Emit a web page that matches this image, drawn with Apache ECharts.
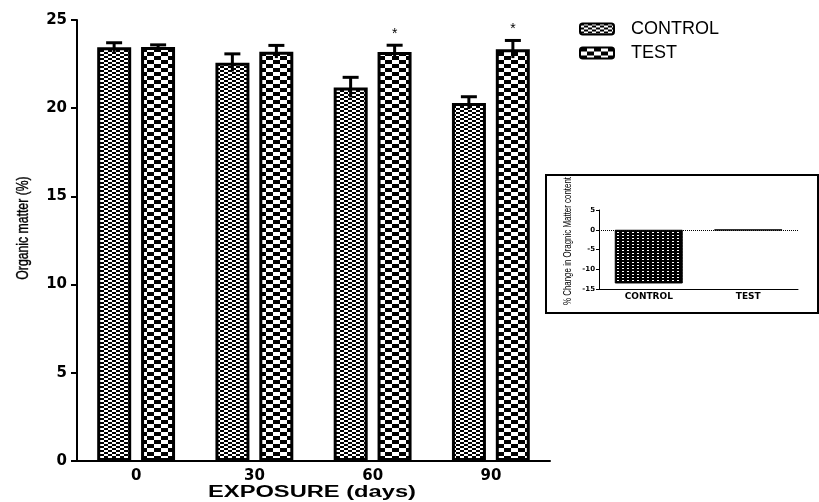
<!DOCTYPE html>
<html>
<head>
<meta charset="utf-8">
<script src="https://cdn.jsdelivr.net/npm/echarts@6/dist/echarts.min.js"></script>
<style>html,body{margin:0;padding:0;background:#fff}#c{width:819px;height:502px}</style>
</head>
<body>
<div id="c"></div>
<script>
var categories = ['0', '30', '60', '90'];
var controlMean = [23.45, 22.58, 21.18, 20.30];
var controlErr = [0.26, 0.50, 0.57, 0.35];
var testMean = [23.47, 23.20, 23.19, 23.34];
var testErr = [0.12, 0.36, 0.38, 0.50];
var testSig = ['', '', '*', '*'];
var yTicks = [0, 5, 10, 15, 20, 25];

var insetCategories = ['CONTROL', 'TEST'];
var insetValues = [-13.6, -0.1];
var insetTicks = [-15, -10, -5, 0, 5];

function makePattern(cw, ch, fg, bg) {
  var c = document.createElement('canvas');
  c.width = cw * 2; c.height = ch * 2;
  var g = c.getContext('2d');
  g.fillStyle = bg; g.fillRect(0, 0, c.width, c.height);
  g.fillStyle = fg;
  g.fillRect(0, 0, cw, ch);
  g.fillRect(cw, ch, cw, ch);
  return { image: c, repeat: 'repeat' };
}
function makeDots() {
  var c = document.createElement('canvas');
  c.width = 5; c.height = 3;
  var g = c.getContext('2d');
  g.fillStyle = '#000'; g.fillRect(0, 0, 5, 3);
  g.fillStyle = '#fff'; g.fillRect(2, 1, 2, 1);
  return { image: c, repeat: 'repeat' };
}
var controlPat = makePattern(4, 2, '#000', '#fff');
var testPat = makePattern(7, 4, '#000', '#fff');
var dotPat = makeDots();

function errRender(offset, meanArr, errArr, sigArr) {
  return function (params, api) {
    var i = params.dataIndex;
    var m = meanArr[i], e = errArr[i];
    var top = api.coord([i, m + e]);
    var bot = api.coord([i, m - e]);
    var cx = top[0] + offset;
    var cap = 8;
    var children = [
      { type: 'line', shape: { x1: cx, y1: top[1], x2: cx, y2: bot[1] }, style: { stroke: '#000', lineWidth: 3 } },
      { type: 'line', shape: { x1: cx - cap, y1: top[1], x2: cx + cap, y2: top[1] }, style: { stroke: '#000', lineWidth: 3 } }
    ];
    if (sigArr && sigArr[i]) {
      children.push({ type: 'text', style: { text: sigArr[i], x: cx, y: top[1] - 4, align: 'center', verticalAlign: 'bottom', font: '14px "Liberation Sans", Arial', fill: '#000' } });
    }
    return { type: 'group', children: children };
  };
}

var chart = echarts.init(document.getElementById('c'), null, { renderer: 'canvas' });
var font = '"Liberation Sans", Arial, sans-serif';
var wide = '"DejaVu Sans", "Liberation Sans", Arial, sans-serif';
chart.setOption({
  animation: false,
  backgroundColor: '#fff',
  grid: [
    { left: 77, right: 269, top: 20, bottom: 41 },
    { left: 599, right: 21, top: 210, bottom: 213 }
  ],
  legend: {
    data: ['CONTROL', 'TEST'],
    orient: 'vertical',
    left: 579, top: 20, padding: 0,
    itemWidth: 34, itemHeight: 11, itemGap: 6,
    icon: 'roundRect',
    textStyle: { fontFamily: font, fontSize: 18, color: '#000', padding: [0, 0, 0, 12] }
  },
  xAxis: [
    {
      type: 'category', data: categories, gridIndex: 0,
      axisLine: { lineStyle: { color: '#000', width: 2 } },
      axisTick: { alignWithLabel: true, length: 5, lineStyle: { width: 2, color: '#000' } },
      axisLabel: { fontFamily: wide, fontWeight: 'bold', fontSize: 15, color: '#000', margin: 8 }
    },
    {
      type: 'category', data: insetCategories, gridIndex: 1,
      axisLine: { onZero: false, lineStyle: { color: '#000', width: 1 } },
      axisTick: { show: false },
      axisLabel: { fontFamily: wide, fontWeight: 'bold', fontSize: 9, color: '#000', margin: 3 }
    }
  ],
  yAxis: [
    {
      type: 'value', gridIndex: 0, min: yTicks[0], max: yTicks[yTicks.length - 1], interval: 5,
      axisLine: { show: true, lineStyle: { color: '#000', width: 2 } },
      axisTick: { show: true, length: 6, lineStyle: { width: 2, color: '#000' } },
      splitLine: { show: false },
      axisLabel: { fontFamily: wide, fontWeight: 'bold', fontSize: 15, color: '#000', margin: 10 }
    },
    {
      type: 'value', gridIndex: 1, min: insetTicks[0], max: insetTicks[insetTicks.length - 1], interval: 5,
      axisLine: { show: true, lineStyle: { color: '#000', width: 1 } },
      axisTick: { show: true, length: 3, lineStyle: { width: 1, color: '#000' } },
      splitLine: { show: false },
      axisLabel: { fontFamily: wide, fontWeight: 'bold', fontSize: 7, color: '#000', margin: 4 }
    }
  ],
  graphic: [
    { type: 'rect', z: -10, shape: { x: 546, y: 175, width: 272, height: 138 }, style: { fill: 'none', stroke: '#000', lineWidth: 2 } },
    { type: 'text', rotation: Math.PI / 2, scaleX: 0.72, x: 568, y: 241, style: { text: '% Change in Oragnic Matter content', align: 'center', verticalAlign: 'middle', font: '11px ' + font, fill: '#000' } },
    { type: 'text', rotation: Math.PI / 2, scaleX: 0.72, x: 23, y: 228, style: { text: 'Organic matter (%)', align: 'center', verticalAlign: 'middle', font: '17px ' + font, fill: '#000', stroke: '#000', lineWidth: 0.4 } },
    { type: 'text', scaleX: 1.48, x: 312, y: 493, style: { text: 'EXPOSURE (days)', align: 'center', verticalAlign: 'middle', font: 'bold 16px ' + font, fill: '#000' } }
  ],
  series: [
    {
      name: 'CONTROL', type: 'bar', xAxisIndex: 0, yAxisIndex: 0, data: controlMean,
      barWidth: 34, barGap: '29%',
      itemStyle: { color: controlPat, borderColor: '#000', borderWidth: 3 }
    },
    {
      name: 'TEST', type: 'bar', xAxisIndex: 0, yAxisIndex: 0, data: testMean,
      barWidth: 34, barGap: '29%',
      itemStyle: { color: testPat, borderColor: '#000', borderWidth: 3 }
    },
    {
      type: 'custom', xAxisIndex: 0, yAxisIndex: 0, z: 5,
      data: controlMean.map(function (v, i) { return [i, v]; }),
      renderItem: errRender(-22, controlMean, controlErr, null)
    },
    {
      type: 'custom', xAxisIndex: 0, yAxisIndex: 0, z: 5,
      data: testMean.map(function (v, i) { return [i, v]; }),
      renderItem: errRender(22, testMean, testErr, testSig)
    },
    {
      name: 'inset', type: 'bar', xAxisIndex: 1, yAxisIndex: 1, data: insetValues,
      barWidth: 68,
      itemStyle: { color: dotPat, borderColor: '#000', borderWidth: 1 },
      markLine: {
        silent: true, symbol: 'none', label: { show: false },
        lineStyle: { color: '#000', type: 'dotted', width: 1 },
        data: [{ yAxis: 0 }]
      }
    }
  ]
});
</script>
</body>
</html>
